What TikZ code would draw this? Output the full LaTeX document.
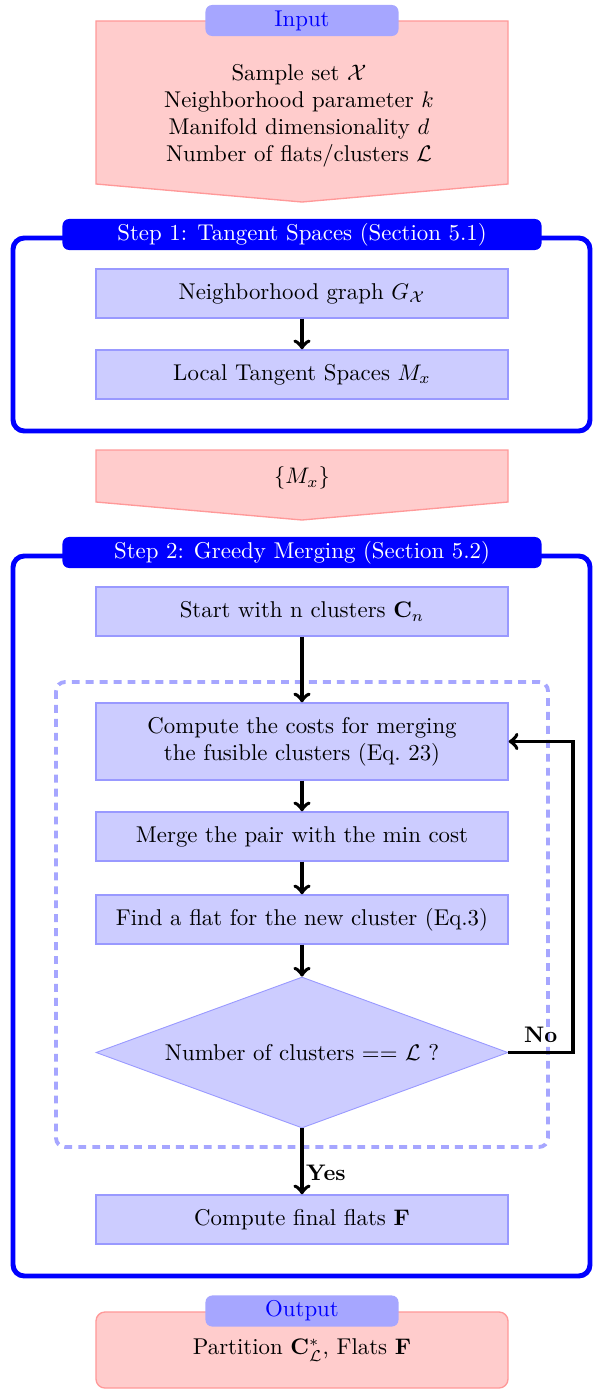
\documentclass[tikz,border=0pt]{standalone}
\usepackage{amsmath}
\usetikzlibrary{shapes.geometric}

\tikzset{
	block/.style={draw=blue!40, semithick, fill=blue!20, minimum width=183.1pt, minimum height=21.8pt, align=center, inner sep=2pt},
	pinkbox/.style={draw=red!40, semithick, fill=red!20},
	tab/.style={fill=blue!35, text=blue, rounded corners=3pt, minimum width=85.8pt, minimum height=13.8pt, inner sep=0pt},
	steptab/.style={fill=blue, text=white, rounded corners=3pt, minimum width=212.9pt, minimum height=13.8pt, inner sep=0pt},
	stepframe/.style={draw=blue, line width=2.2pt, rounded corners=5pt},
	loopframe/.style={draw=blue!35, line width=1.7pt, dash pattern=on 3.5pt off 2.7pt, rounded corners=4pt},
	arr/.style={->, line width=1.7pt}
}

\begin{document}
\begin{tikzpicture}[x=0.4444pt, y=-0.4444pt, font=\fontsize{10.15pt}{12pt}\selectfont]
	
	\useasboundingbox (0,0) rectangle (598,1389);
	
	% Input
	\draw[pinkbox] (96,21) -- (508,21) -- (508,184) -- (302,202) -- (96,184) -- cycle;
	\node[align=center] (input) at (299,116) {Sample set $\mathcal{X}$\\Neighborhood parameter $k$\\Manifold dimensionality $d$\\Number of flats/clusters $\mathcal{L}$};
	\node[tab] (intab) at (302,20.5) {Input};
	
	% Step 1
	\draw[stepframe] (13,238) rectangle (590,431);
	\node[steptab] (s1tab) at (302,234.5) {Step 1: Tangent Spaces (Section 5.1)};
	\node[block] (ngraph) at (302,293.5) {Neighborhood graph $G_{\mathcal{X}}$};
	\node[block] (tangent) at (302,374.5) {Local Tangent Spaces $M_x$};
	\draw[arr] (ngraph) -- (tangent);
	
	% Intermediate result
	\draw[pinkbox] (96,450) -- (508,450) -- (508,502) -- (302,520) -- (96,502) -- cycle;
	\node (mx) at (302,478) {$\{M_x\}$};
	
	% Step 2
	\draw[stepframe] (13,556) rectangle (590,1276);
	\node[steptab] (s2tab) at (302,552.5) {Step 2: Greedy Merging (Section 5.2)};
	\draw[loopframe] (56,682) rectangle (548,1147);
	
	\node[block] (start) at (302,611.5) {Start with n clusters $\mathbf{C}_n$};
	\node[block, minimum height=34.2pt] (costs) at (302,741.5) {Compute the costs for merging\\the fusible clusters (Eq.~23)};
	\node[block] (merge) at (302,836.5) {Merge the pair with the min cost};
	\node[block] (findflat) at (302,919.5) {Find a flat for the new cluster (Eq.3)};
	\node[diamond, draw=blue!40, fill=blue!20, aspect=2.7, inner sep=0pt, minimum width=183.1pt, minimum height=67.1pt] (decide) at (302,1052.5) {Number of clusters == $\mathcal{L}$ ?};
	\node[block] (final) at (302,1219.5) {Compute final flats $\mathbf{F}$};
	\coordinate (turn) at (573,1052.5);
	
	\draw[arr] (start) -- (costs);
	\draw[arr] (costs) -- (merge);
	\draw[arr] (merge) -- (findflat);
	\draw[arr] (findflat) -- (decide);
	\draw[arr] (decide) -- node[right, pos=0.68, font=\bfseries, inner sep=1pt] {Yes} (final);
	\draw[arr] (decide.east) -- node[above, font=\bfseries] {No} (turn) |- (costs.east);
	
	% Output
	\node[pinkbox, rounded corners=4pt, minimum width=183.1pt, minimum height=33.8pt] (output) at (302,1350) {Partition $\mathbf{C}^{*}_{\mathcal{L}}$, Flats $\mathbf{F}$};
	\node[tab] (outtab) at (302,1311) {Output};
	
\end{tikzpicture}
\end{document}
